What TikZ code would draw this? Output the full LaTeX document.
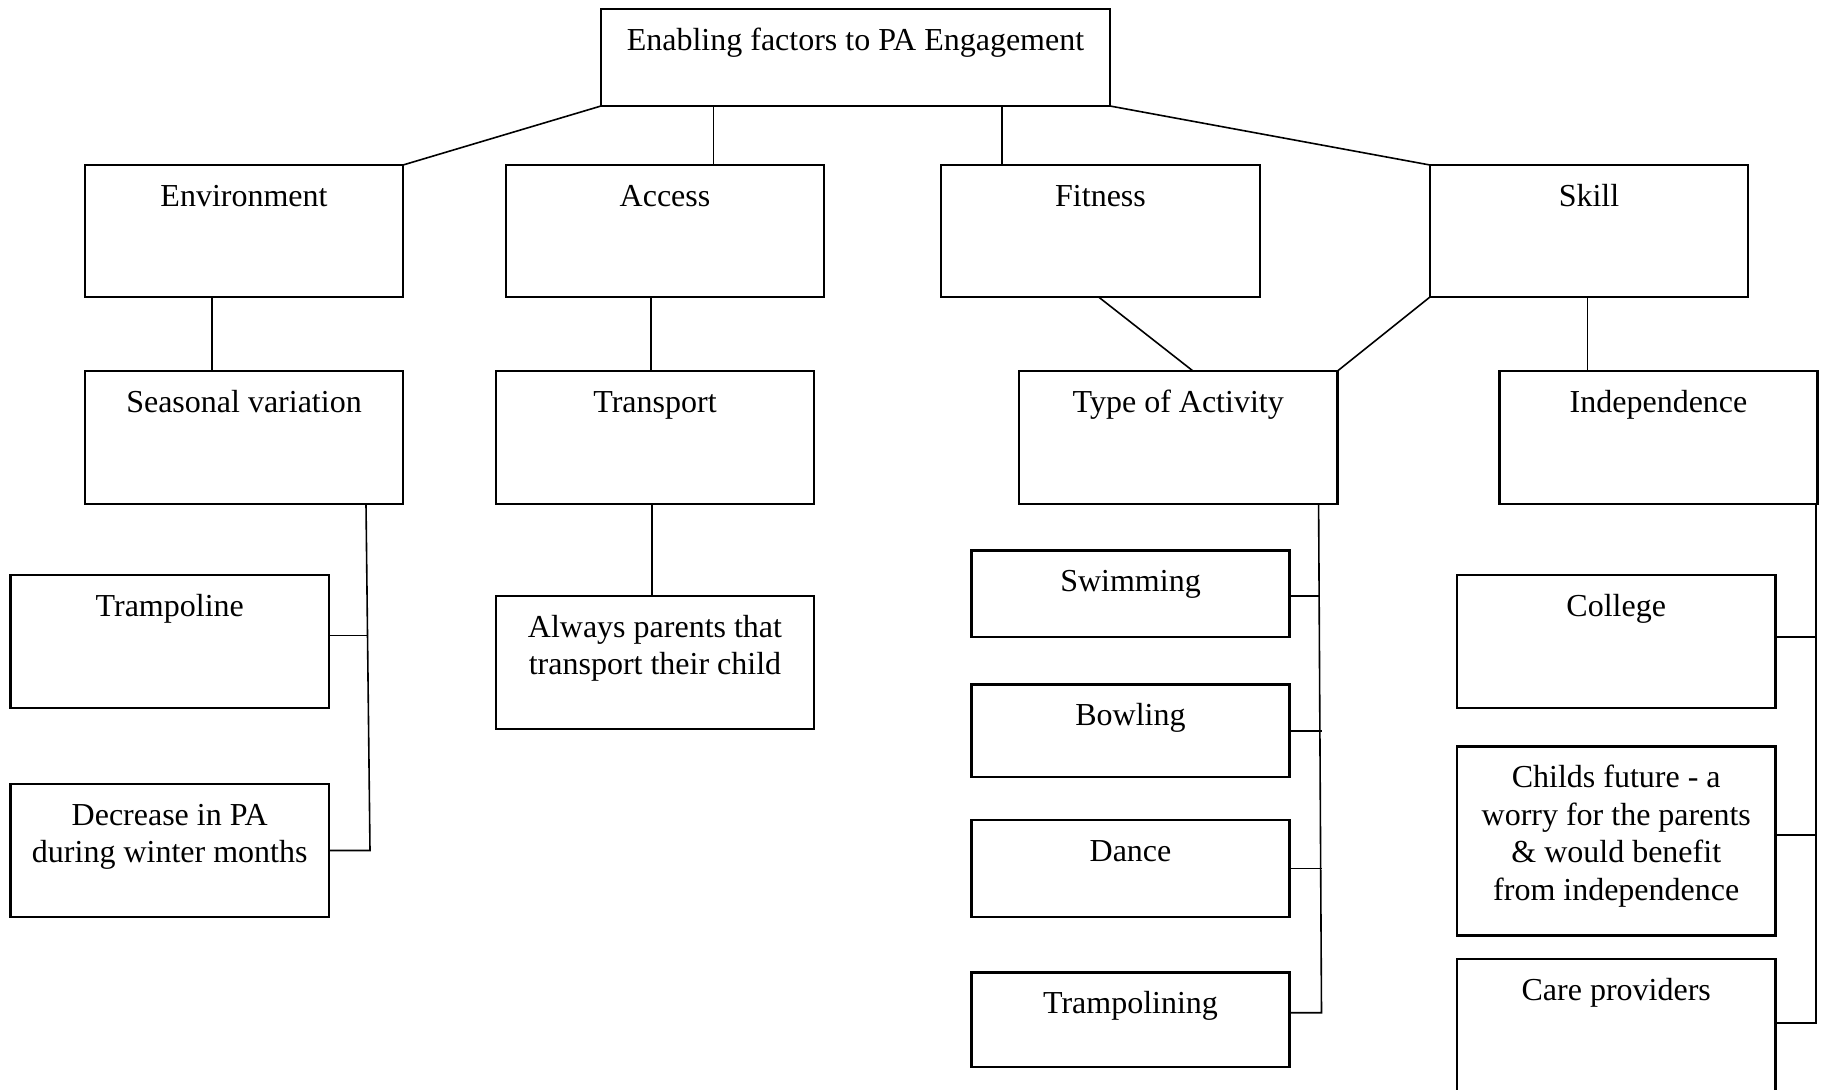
\documentclass[tikz,border=0pt]{standalone}
\usepackage{fontspec}
\setmainfont{Liberation Serif}
\usetikzlibrary{calc}

% A framed box given by its corners (x1,y1,x2,y2), with its text set from the top
\newcommand\chartbox[6]{%
  \node[box, minimum width={(#4-#2)/2}, minimum height={(#5-#3)/2}] (#1) at ({(#2+#4)/2},{(#3+#5)/2}) {};
  \node[boxtext] (#1-t) at ($(#1.north)+(0,41.2)$) {\begin{tabular}[t]{@{}c@{}}#6\end{tabular}};}

\begin{document}
\begin{tikzpicture}[x=0.5pt,y=-0.5pt,
  box/.style={draw, line width=1.05pt, inner sep=0pt, outer sep=0pt},
  boxtext/.style={anchor=base, inner sep=0pt, font=\fontsize{16pt}{18.75pt}\selectfont},
  link/.style={line width=0.8pt}]
\useasboundingbox (0,0) rectangle (1827,1089);
\clip (0,0) rectangle (1827,1089);
\fill[white] (0,0) rectangle (1827,1089);

% top level
\chartbox{root}{601}{9}{1110}{106}{Enabling factors to PA Engagement}

% second level
\chartbox{env}{85}{165}{403}{297}{Environment}
\chartbox{access}{506}{165}{824}{297}{Access}
\chartbox{fitness}{941}{165}{1260}{297}{Fitness}
\chartbox{skill}{1430}{165}{1748}{297}{Skill}

% third level
\chartbox{seasonal}{85}{371}{403}{504}{Seasonal variation}
\chartbox{transport}{496}{371}{814}{504}{Transport}
\chartbox{type}{1019}{371}{1337.5}{504}{Type of Activity}
\chartbox{indep}{1499.5}{371}{1817.5}{504}{Independence}

% leaves
\chartbox{tramp}{10.5}{575}{329}{708}{Trampoline}
\chartbox{decrease}{10.5}{784}{329}{917}{Decrease in PA\\during winter months}
\chartbox{always}{496}{596}{814}{729}{Always parents that\\transport their child}
\chartbox{swim}{971.5}{550.5}{1289.5}{637}{Swimming}
\chartbox{bowl}{971.5}{684.5}{1289.5}{777}{Bowling}
\chartbox{dance}{971.5}{820}{1289.5}{917}{Dance}
\chartbox{trampolining}{971.5}{972.5}{1289.5}{1067}{Trampolining}
\chartbox{college}{1457}{575}{1775.5}{708}{College}
\chartbox{childs}{1457}{746.5}{1775.5}{935.5}{Childs future - a\\worry for the parents\\\& would benefit\\from independence}
\chartbox{care}{1457}{959}{1775.5}{1092}{Care providers}

% attachment points
\coordinate (ra) at ($(root.south west)+(112.6,0)$);
\coordinate (rf) at ($(root.south west)+(400.7,0)$);
\coordinate (es) at ($(env.south west)+(127,0)$);
\coordinate (at) at ($(access.south west)+(145,0)$);
\coordinate (fs) at ($(fitness.south west)+(157.6,0)$);
\coordinate (tn) at ($(type.north west)+(174,0)$);
\coordinate (si) at ($(skill.south west)+(157.5,0)$);
\coordinate (tr) at ($(transport.south west)+(156,0)$);
\coordinate (ss1) at ($(seasonal.south west)+(281,0)$);
\coordinate (ss2) at ($(decrease.east)+(41,0)$);
\coordinate (tj) at ($(ss1)!0.38!(ss2)$);
\coordinate (ty1) at ($(type.south west)+(299.6,0)$);
\coordinate (ty2) at ($(trampolining.east)+(32,-7)$);
\coordinate (sj) at ($(ty1)!0.181!(ty2)$);
\coordinate (in1) at ($(indep.south east)+(-1.5,0)$);
\coordinate (in2) at ($(care.east)+(40.5,-2.5)$);
\coordinate (cj) at ($(college.east)+(0,-4.5)$);
\coordinate (hj) at ($(childs.east)+(0,-6)$);

% connectors from the top box
\draw[link] (root.south west) -- (env.north east);
\draw[link] (ra) -- (ra |- access.north);
\draw[link] (rf) -- (rf |- fitness.north);
\draw[link] (root.south east) -- (skill.north west);

% second to third level
\draw[link] (es) -- (es |- seasonal.north);
\draw[link] (at) -- (at |- transport.north);
\draw[link] (fs) -- (tn);
\draw[link] (skill.south west) -- (type.north east);
\draw[link] (si) -- (si |- indep.north);

% seasonal variation bracket
\draw[link] (ss1) -- (ss2) -- (decrease.east);
\draw[link] (tj -| tramp.east) -- (tj);

% transport
\draw[link] (tr) -- (tr |- always.north);

% type of activity bracket
\draw[link] (ty1) -- (ty2) -- (ty2 -| trampolining.east);
\draw[link] (sj -| swim.east) -- (sj);
\draw[link] (bowl.east) -- (bowl.east -| ty2);
\draw[link] (dance.east) -- (dance.east -| ty2);

% independence bracket
\draw[link] (in1) -- (in2) -- (in2 -| care.east);
\draw[link] (cj) -- (cj -| in1);
\draw[link] (hj) -- (hj -| in1);
\end{tikzpicture}
\end{document}
